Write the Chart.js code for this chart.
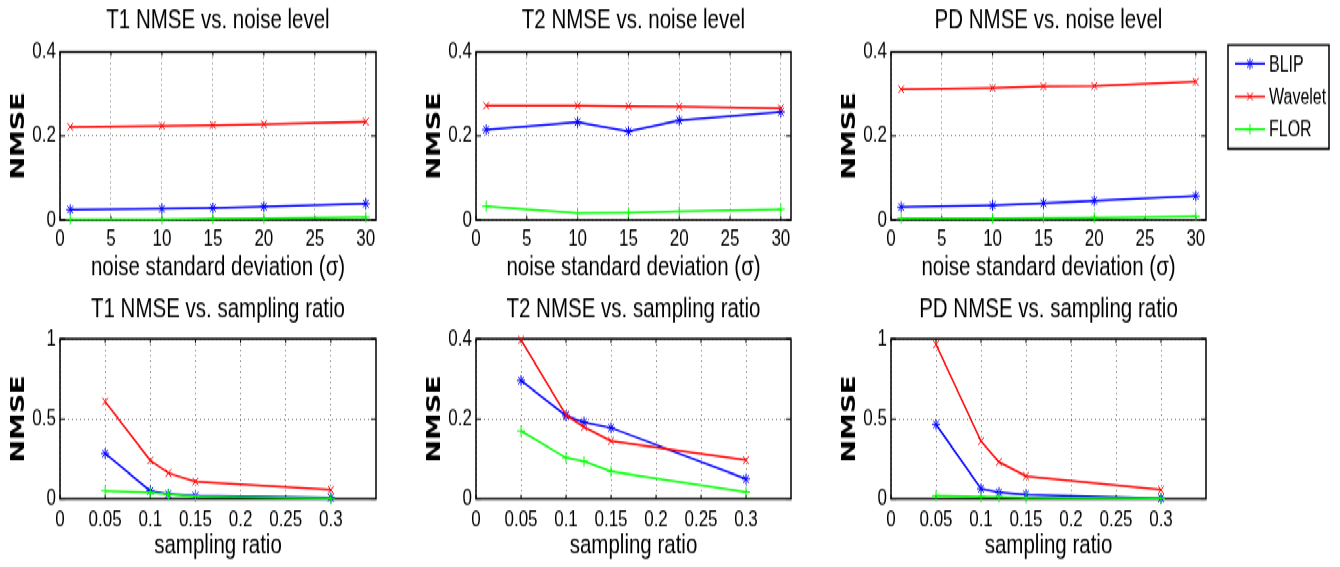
<!DOCTYPE html>
<html>
<head>
<meta charset="utf-8">
<script src="https://cdn.jsdelivr.net/npm/chart.js@4.4.1/dist/chart.umd.min.js"></script>
<style>
body { margin: 0; background: #fff; overflow: hidden; }
/* the reference is stretched vertically, so draw flat and stretch the whole figure */
#fig { position: absolute; left: 0; top: 0; width: 1340px; height: 420px; transform: scaleY(1.35); transform-origin: 0 0; }
#fig div { position: absolute; }
</style>
</head>
<body>
<div id="fig"></div>
<script>
var series = ["BLIP", "Wavelet", "FLOR"];
var colors = { BLIP: "#0000ff", Wavelet: "#ff0000", FLOR: "#00ff00" };
var markers = { BLIP: "star", Wavelet: "crossRot", FLOR: "cross" };

var noiseLevels = [1, 10, 15, 20, 30];
var samplingRatios = [0.05, 0.1, 0.12, 0.15, 0.3];

var t1NoiseBlip = [0.025, 0.027, 0.029, 0.032, 0.039];
var t1NoiseWavelet = [0.222, 0.224, 0.226, 0.228, 0.234];
var t1NoiseFlor = [0.002, 0.002, 0.003, 0.004, 0.007];

var t2NoiseBlip = [0.215, 0.233, 0.211, 0.237, 0.257];
var t2NoiseWavelet = [0.272, 0.272, 0.271, 0.270, 0.266];
var t2NoiseFlor = [0.033, 0.017, 0.018, 0.021, 0.026];

var pdNoiseBlip = [0.031, 0.035, 0.040, 0.046, 0.057];
var pdNoiseWavelet = [0.311, 0.314, 0.318, 0.319, 0.329];
var pdNoiseFlor = [0.004, 0.004, 0.005, 0.006, 0.009];

var t1RatioBlip = [0.284, 0.05, 0.03, 0.02, 0.008];
var t1RatioWavelet = [0.609, 0.24, 0.162, 0.109, 0.057];
var t1RatioFlor = [0.05, 0.04, 0.028, 0.016, 0.002];

var t2RatioBlip = [0.296, 0.208, 0.192, 0.178, 0.05];
var t2RatioWavelet = [0.398, 0.21, 0.18, 0.145, 0.097];
var t2RatioFlor = [0.17, 0.103, 0.094, 0.069, 0.017];

var pdRatioBlip = [0.466, 0.063, 0.04, 0.027, 0.004];
var pdRatioWavelet = [0.966, 0.361, 0.231, 0.143, 0.057];
var pdRatioFlor = [0.019, 0.013, 0.011, 0.008, 0.002];

var panels = [
  { title: "T1 NMSE vs. noise level", xTitle: "noise standard deviation (\u03c3)", x: noiseLevels, xMax: 31, xStep: 5, xLast: 30, yMax: 0.4, yStep: 0.2,
    values: [t1NoiseBlip, t1NoiseWavelet, t1NoiseFlor] },
  { title: "T2 NMSE vs. noise level", xTitle: "noise standard deviation (\u03c3)", x: noiseLevels, xMax: 31, xStep: 5, xLast: 30, yMax: 0.4, yStep: 0.2,
    values: [t2NoiseBlip, t2NoiseWavelet, t2NoiseFlor] },
  { title: "PD NMSE vs. noise level", xTitle: "noise standard deviation (\u03c3)", x: noiseLevels, xMax: 31, xStep: 5, xLast: 30, yMax: 0.4, yStep: 0.2,
    values: [pdNoiseBlip, pdNoiseWavelet, pdNoiseFlor], legend: true },
  { title: "T1 NMSE vs. sampling ratio", xTitle: "sampling ratio", x: samplingRatios, xMax: 0.35, xStep: 0.05, xLast: 0.3, yMax: 1, yStep: 0.5,
    values: [t1RatioBlip, t1RatioWavelet, t1RatioFlor] },
  { title: "T2 NMSE vs. sampling ratio", xTitle: "sampling ratio", x: samplingRatios, xMax: 0.35, xStep: 0.05, xLast: 0.3, yMax: 0.4, yStep: 0.2,
    values: [t2RatioBlip, t2RatioWavelet, t2RatioFlor] },
  { title: "PD NMSE vs. sampling ratio", xTitle: "sampling ratio", x: samplingRatios, xMax: 0.35, xStep: 0.05, xLast: 0.3, yMax: 1, yStep: 0.5,
    values: [pdRatioBlip, pdRatioWavelet, pdRatioFlor] }
];

// layout, in unstretched pixels
var plotLeft = [60, 476, 891];
var plotRight = [376, 791, 1206];
var rows = [
  { top: 0, height: 212, titlePad: { top: 2.8, bottom: 11.1 }, xHeight: 49, tickPad: 3.8, xTitlePad: 1.7 },
  { top: 212, height: 208, titlePad: { top: 5.2, bottom: 9.3 }, xHeight: 50.4, tickPad: 5.4, xTitlePad: 3.7 }
];

Chart.defaults.font.family = "'Liberation Sans', Arial, sans-serif";
Chart.defaults.color = "#000";

function fmt(v) {
  return String(parseFloat(Number(v).toFixed(4)));
}

function drawMarker(ctx, style, x, y, r) {
  ctx.beginPath();
  if (style == "cross" || style == "star") {
    ctx.moveTo(x - r, y); ctx.lineTo(x + r, y);
    ctx.moveTo(x, y - r); ctx.lineTo(x, y + r);
  }
  if (style == "crossRot" || style == "star") {
    var d = r * 0.7071;
    ctx.moveTo(x - d, y - d); ctx.lineTo(x + d, y + d);
    ctx.moveTo(x - d, y + d); ctx.lineTo(x + d, y - d);
  }
  ctx.stroke();
}

// box round the axes with matlab style inward ticks
var framePlugin = {
  id: "frame",
  beforeDatasetsDraw: function(chart) {
    var a = chart.chartArea, ctx = chart.ctx;
    ctx.save();
    ctx.strokeStyle = "#000";
    ctx.lineWidth = 1.5;
    ctx.strokeRect(a.left, a.top, a.right - a.left, a.bottom - a.top);
    ctx.lineWidth = 1;
    chart.scales.x.ticks.forEach(function(t) {
      var px = chart.scales.x.getPixelForValue(t.value);
      ctx.beginPath();
      ctx.moveTo(px, a.bottom); ctx.lineTo(px, a.bottom - 3);
      ctx.moveTo(px, a.top); ctx.lineTo(px, a.top + 3);
      ctx.stroke();
    });
    chart.scales.y.ticks.forEach(function(t) {
      var py = chart.scales.y.getPixelForValue(t.value);
      ctx.beginPath();
      ctx.moveTo(a.left, py); ctx.lineTo(a.left + 5, py);
      ctx.moveTo(a.right, py); ctx.lineTo(a.right - 5, py);
      ctx.stroke();
    });
    ctx.restore();
  }
};

var legendPlugin = {
  id: "boxLegend",
  afterDraw: function(chart) {
    var a = chart.chartArea, ctx = chart.ctx;
    var left = a.right + 22, top = 33.3, w = 101, h = 77;
    ctx.save();
    ctx.fillStyle = "#fff";
    ctx.fillRect(left, top, w, h);
    ctx.strokeStyle = "#000";
    ctx.lineWidth = 1.5;
    ctx.strokeRect(left, top, w, h);
    ctx.font = "16px 'Liberation Sans', Arial, sans-serif";
    ctx.textBaseline = "middle";
    ctx.textAlign = "left";
    for (var i = 0; i < series.length; i++) {
      var name = series[i];
      var y = top + 14 + i * 24.2;
      ctx.strokeStyle = colors[name];
      ctx.lineWidth = 1.5;
      ctx.beginPath();
      ctx.moveTo(left + 7, y); ctx.lineTo(left + 37, y);
      ctx.stroke();
      ctx.lineWidth = 1;
      drawMarker(ctx, markers[name], left + 22, y, 4);
      ctx.fillStyle = "#000";
      ctx.fillText(name, left + 41, y + 1);
    }
    ctx.restore();
  }
};

var charts = [];

panels.forEach(function(p, k) {
  var col = k % 3, row = rows[Math.floor(k / 3)];
  var left = plotLeft[col] - 60;
  var right = col == 2 ? 1340 : plotRight[col] + 8;
  var box = document.createElement("div");
  box.style.left = left + "px";
  box.style.top = row.top + "px";
  box.style.width = (right - left) + "px";
  box.style.height = row.height + "px";
  var canvas = document.createElement("canvas");
  box.appendChild(canvas);
  document.getElementById("fig").appendChild(box);

  var datasets = [];
  for (var i = 0; i < series.length; i++) {
    var name = series[i];
    datasets.push({
      label: name,
      data: p.x.map(function(xv, j) { return { x: xv, y: p.values[i][j] }; }),
      borderColor: colors[name],
      backgroundColor: colors[name],
      borderWidth: 1.5,
      pointStyle: markers[name],
      pointRadius: 4,
      pointBorderWidth: 1,
      pointHoverRadius: 4,
      tension: 0,
      fill: false,
      clip: false,
      order: series.length - 1 - i
    });
  }

  charts.push(new Chart(canvas, {
    type: "line",
    data: { datasets: datasets },
    options: {
      responsive: true,
      maintainAspectRatio: false,
      animation: false,
      events: [],
      layout: { padding: { left: 0, top: 0, bottom: 0, right: right - plotRight[col] } },
      plugins: {
        legend: { display: false },
        tooltip: { enabled: false },
        title: {
          display: true,
          fullSize: false,
          text: p.title,
          font: { size: 20.5, weight: "normal" },
          color: "#000",
          padding: row.titlePad
        }
      },
      scales: {
        x: {
          type: "linear",
          min: 0,
          max: p.xMax,
          afterFit: function(s) { s.height = row.xHeight; },
          afterBuildTicks: function(s) {
            s.ticks = s.ticks.filter(function(t) { return t.value <= p.xLast + 1e-9; });
          },
          ticks: { stepSize: p.xStep, includeBounds: false, padding: row.tickPad, maxRotation: 0, autoSkip: false,
                   font: { size: 17 }, callback: fmt },
          grid: { color: "rgba(0,0,0,0.55)", lineWidth: 1, drawTicks: false },
          border: { display: false, dash: [1, 3] },
          title: { display: true, text: p.xTitle, font: { size: 20.5 }, padding: { top: 0, bottom: row.xTitlePad } }
        },
        y: {
          min: 0,
          max: p.yMax,
          afterFit: function(s) { s.width = 60; },
          ticks: { stepSize: p.yStep, padding: 4, font: { size: 17 }, callback: fmt },
          grid: { color: "rgba(0,0,0,0.55)", lineWidth: 1, drawTicks: false },
          border: { display: false, dash: [1, 3] },
          title: { display: true, text: "NMSE", font: { family: "'DejaVu Sans', sans-serif", size: 20, weight: "bold" },
                   padding: { top: 6.5, bottom: 0 } }
        }
      }
    },
    plugins: p.legend ? [framePlugin, legendPlugin] : [framePlugin]
  }));
});
</script>
</body>
</html>
